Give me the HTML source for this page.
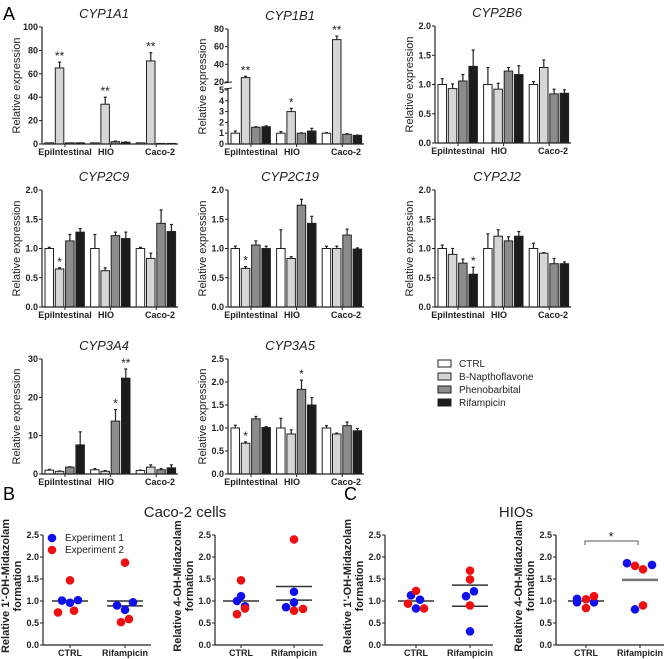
<!DOCTYPE html>
<html><head><meta charset="utf-8"><style>
html,body{margin:0;padding:0;background:#fff}
svg{display:block;font-family:"Liberation Sans",Arial,sans-serif}
.tk{font-size:9px;font-weight:bold;fill:#222}
.cat{font-size:9px;font-weight:bold;fill:#222}
.yl{font-size:11px;fill:#222}
.tt{font-size:13px;font-style:italic;fill:#222}
</style></head><body>
<svg id="fig" width="668" height="659" viewBox="0 0 668 659" xmlns="http://www.w3.org/2000/svg">
<text x="3" y="20" font-size="18">A</text>
<text x="3" y="500" font-size="18">B</text>
<text x="344" y="500" font-size="18">C</text>
<text x="185" y="517" font-size="15" text-anchor="middle" fill="#222">Caco-2 cells</text>
<text x="516" y="517" font-size="15" text-anchor="middle" fill="#222">HIOs</text>
</svg>
<script>
const NS="http://www.w3.org/2000/svg";
const svg=document.getElementById('fig');
const groups=["EpiIntestinal","HIO","Caco-2"];
const treatments=["CTRL","B-Napthoflavone","Phenobarbital","Rifampicin"];
const fills=["#ffffff","#d6d6d6","#8c8c8c","#1c1c1c"];

const cyp1a1Values=[[1,65,1,1],[1,34,2,1.5],[1,71,0.5,0.5]];
const cyp1a1Errors=[[0,5,0,0],[0,6,0.5,0.3],[0,7,0,0]];
const cyp1a1Ticks=[0,20,40,60,80,100];
const cyp1b1Values=[[1,25,1.55,1.6],[1,3,1,1.2],[1,68,0.9,0.8]];
const cyp1b1Errors=[[0.2,1.5,0.05,0.08],[0.15,0.3,0.03,0.25],[0.05,4,0.05,0.03]];
const cyp1b1Ticks=[0,1,2,3,4,5,20,40,60,80];
const cyp2b6Values=[[1,0.93,1.06,1.31],[1,0.92,1.23,1.17],[1,1.29,0.84,0.85]];
const cyp2b6Errors=[[0.1,0.08,0.11,0.28],[0.29,0.1,0.06,0.15],[0.05,0.13,0.08,0.06]];
const cyp2c9Values=[[1,0.65,1.13,1.28],[1,0.62,1.22,1.17],[1,0.83,1.43,1.29]];
const cyp2c9Errors=[[0.02,0.02,0.11,0.06],[0.24,0.05,0.06,0.11],[0.02,0.09,0.23,0.12]];
const cyp2c19Values=[[1,0.66,1.06,1.0],[1,0.83,1.74,1.43],[1,1.0,1.23,0.99]];
const cyp2c19Errors=[[0.04,0.03,0.07,0.04],[0.32,0.03,0.1,0.12],[0.04,0.04,0.1,0.02]];
const cyp2j2Values=[[1,0.9,0.75,0.56],[1,1.21,1.13,1.21],[1,0.92,0.74,0.74]];
const cyp2j2Errors=[[0.06,0.1,0.07,0.12],[0.25,0.11,0.07,0.08],[0.09,0.01,0.09,0.03]];
const cyp3a4Values=[[1,0.7,1.8,7.6],[1.1,0.7,13.8,25],[0.9,1.8,1.1,1.6]];
const cyp3a4Errors=[[0.2,0.1,0.1,3.4],[0.3,0.2,3,2.4],[0.1,0.6,0.3,0.8]];
const cyp3a4Ticks=[0,10,20,30];
const cyp3a5Values=[[1,0.67,1.2,1.01],[1,0.87,1.84,1.5],[1,0.87,1.05,0.94]];
const cyp3a5Errors=[[0.06,0.03,0.05,0.02],[0.21,0.09,0.2,0.16],[0.05,0.02,0.08,0.05]];
const ticks20=[0,0.5,1.0,1.5,2.0];
const ticks25=[0,0.5,1.0,1.5,2.0,2.5];

function el(tag,attrs,parent){const e=document.createElementNS(NS,tag);for(const k in attrs)e.setAttribute(k,attrs[k]);(parent||svg).appendChild(e);return e;}
function fmt(v,dec){return dec?v.toFixed(1):String(v);}

function barChart(name,title,ax,top,bottom,yfn,ticks,dec,values,errors,stars){
  const g=el('g',{});
  
  
  const W=136;
  const t=el('text',{x:ax+62,y:top-9,'text-anchor':'middle',class:'tt'},g);t.textContent=title;
  
  
  const yl=el('text',{x:0,y:0,'text-anchor':'middle',class:'yl',transform:`translate(${ax-22},${(top+bottom)/2}) rotate(-90)`},g);yl.textContent='Relative expression';
  
  
  values.forEach((grp,gi)=>{
    const gx=ax+3+gi*45.6;
    grp.forEach((v,bi)=>{
      const x=gx+bi*10.3, y=yfn(v), e=errors[gi][bi];
      if(e>0){const ye=yfn(v+e);
        const ln=el('line',{x1:x+4.3,x2:x+4.3,y1:y,y2:ye,stroke:'#222','stroke-width':1.2},g);
        
        
        el('line',{x1:x+2.8,x2:x+5.8,y1:ye,y2:ye,stroke:'#222','stroke-width':1.2},g);}
      const r=el('rect',{x:x,y:y,width:8.5,height:Math.max(0,bottom-y),fill:fills[bi],stroke:'#222','stroke-width':1},g);
      
      
    });
  });
  stars.forEach(s=>{const [gi,bi,txt]=s;const v=values[gi][bi]+errors[gi][bi];
    const st=el('text',{x:ax+3+gi*45.6+bi*10.3+4.3,y:yfn(v)-2,'text-anchor':'middle','font-size':12,fill:'#222'},g);st.textContent=txt;
    
    });
  const ya=el('line',{x1:ax,x2:ax,y1:top,y2:bottom,stroke:'#222','stroke-width':1.2},g);
  
  
  const xa=el('line',{x1:ax,x2:ax+W,y1:bottom,y2:bottom,stroke:'#222','stroke-width':1.2},g);
  
  
  ticks.forEach(tv=>{const y=yfn(tv);el('line',{x1:ax-3,x2:ax,y1:y,y2:y,stroke:'#222'},g);
    const tl=el('text',{x:ax-4,y:y+3,'text-anchor':'end',class:'tk'},g);tl.textContent=fmt(tv,dec);
    
    });
  const catOff=[23,64,118];
  groups.forEach((c,i)=>{const cx=ax+catOff[i];el('line',{x1:ax+3+i*45.6+20,x2:ax+3+i*45.6+20,y1:bottom,y2:bottom+3,stroke:'#222'},g);
    const ct=el('text',{x:cx,y:bottom+11,'text-anchor':'middle',class:'cat'},g);ct.textContent=c;
    
    });
  return g;
}
function lin(top,bottom,max){return v=>bottom-(bottom-top)*v/max;}

barChart('cyp1a1','CYP1A1',42,27,144,lin(27,144,100),cyp1a1Ticks,false,cyp1a1Values,cyp1a1Errors,[[0,1,'**'],[1,1,'**'],[2,1,'**']]);
const brk=v=>v<=5?144-v*10.8:82-(v-20)*(53/60);
const b1=barChart('cyp1b1','CYP1B1',228,29,144,brk,cyp1b1Ticks,false,cyp1b1Values,cyp1b1Errors,[[0,1,'**'],[1,1,'*'],[2,1,'**']]);
el('rect',{x:224,y:83,width:8,height:6,fill:'#fff'},b1);
el('line',{x1:224,x2:232,y1:83,y2:82,stroke:'#222'},b1);
el('line',{x1:224,x2:232,y1:89,y2:88,stroke:'#222'},b1);
barChart('cyp2b6','CYP2B6',435,26,143,lin(26,143,2),ticks20,true,cyp2b6Values,cyp2b6Errors,[]);
barChart('cyp2c9','CYP2C9',42,190,307,lin(190,307,2),ticks20,true,cyp2c9Values,cyp2c9Errors,[[0,1,'*']]);
barChart('cyp2c19','CYP2C19',228,190,307,lin(190,307,2),ticks20,true,cyp2c19Values,cyp2c19Errors,[[0,1,'*']]);
barChart('cyp2j2','CYP2J2',435,190,307,lin(190,307,2),ticks20,true,cyp2j2Values,cyp2j2Errors,[[0,3,'*']]);
barChart('cyp3a4','CYP3A4',42,359,474,lin(359,474,30),cyp3a4Ticks,false,cyp3a4Values,cyp3a4Errors,[[1,2,'*'],[1,3,'**']]);
barChart('cyp3a5','CYP3A5',228,359,474,lin(359,474,2.5),ticks25,true,cyp3a5Values,cyp3a5Errors,[[0,1,'*'],[1,2,'*']]);

treatments.forEach((t,i)=>{const y=360+i*13;
  const r=el('rect',{x:438,y:y,width:13,height:7,fill:fills[i],stroke:'#222'});
  
  
  const tx=el('text',{x:459,y:y+7,'font-size':10,fill:'#222'});tx.textContent=t;
  
  });

const scatterCats=["CTRL","Rifampicin"];
const caco1Exp1=[[1.01,0.96,1.02],[0.9,0.8,0.97]];
const caco1Exp2=[[1.47,0.74,0.78],[1.87,0.52,0.59]];
const caco1Lines=[[1.0],[1.0,0.89]];
const caco4Exp1=[[1.0,1.11,0.88],[0.86,0.97,1.21]];
const caco4Exp2=[[1.47,0.7,0.83],[2.4,0.78,0.82]];
const caco4Lines=[[1.0],[1.33,1.02]];
const hio1Exp1=[[1.13,1.03,0.83],[1.11,1.22,0.31]];
const hio1Exp2=[[1.23,0.94,0.83],[1.69,1.49,0.9]];
const hio1Lines=[[1.0],[1.36,0.88]];
const hio4Exp1=[[1.05,0.97,0.97],[1.86,1.82,0.81]];
const hio4Exp2=[[1.04,1.11,0.84],[1.8,1.72,0.9]];
const hio4Lines=[[1.0],[1.48]];
const scatterTicks=[0,0.5,1.0,1.5,2.0,2.5];
const jit1=[[-8,0,8],[-8,0,8]];

function scatter(name,ax,cx,exp1,exp2,lines,j1,j2,ylab){
  const top=535,bottom=645,y=v=>bottom-(bottom-top)*v/2.5;
  const g=el('g',{});
  
  
  const yl=el('text',{x:0,y:0,'text-anchor':'middle',class:'yl','font-weight':'bold','font-size':9.5,transform:`translate(${ax-34},${(top+bottom)/2-4}) rotate(-90)`},g);
  const s1=el('tspan',{x:0,dy:0},yl);s1.textContent=ylab;
  const s2=el('tspan',{x:0,dy:12},yl);s2.textContent='formation';
  
  
  lines.forEach((ls,ci)=>ls.forEach(v=>{const ln=el('line',{x1:cx[ci]-18,x2:cx[ci]+18,y1:y(v),y2:y(v),stroke:ci&&ls.length==1?'#777':'#333','stroke-width':ci&&ls.length==1?2.5:1.5},g);
    
    }));
  [[exp1,'#1010ee',j1],[exp2,'#ee1010',j2]].forEach(([d,col,jj])=>d.forEach((pts,ci)=>pts.forEach((v,k)=>{
    const c=el('circle',{cx:cx[ci]+jj[ci][k],cy:y(v),r:4.3,fill:col},g);
    
    })));
  const ya=el('line',{x1:ax,x2:ax,y1:top,y2:bottom,stroke:'#222','stroke-width':1.2},g);
  
  
  const xa=el('line',{x1:ax,x2:ax+108,y1:bottom,y2:bottom,stroke:'#222','stroke-width':1.2},g);
  
  
  scatterTicks.forEach(tv=>{el('line',{x1:ax-3,x2:ax,y1:y(tv),y2:y(tv),stroke:'#222'},g);
    const tl=el('text',{x:ax-4,y:y(tv)+3,'text-anchor':'end',class:'tk'},g);tl.textContent=tv.toFixed(1);
    
    });
  scatterCats.forEach((c,i)=>{el('line',{x1:cx[i],x2:cx[i],y1:bottom,y2:bottom+3,stroke:'#222'},g);
    const ct=el('text',{x:cx[i],y:bottom+11,'text-anchor':'middle',class:'cat'},g);ct.textContent=c;
    
    });
  return {g,y};
}
scatter('caco2-1oh',43,[70,125],caco1Exp1,caco1Exp2,caco1Lines,jit1,[[0,-12,4],[0,-4,4]],"Relative 1'-OH-Midazolam");
scatter('caco2-4oh',215,[241,294],caco4Exp1,caco4Exp2,caco4Lines,[[-4,0,4],[-8,0,0]],[[0,-4,4],[0,0,9]],"Relative 4-OH-Midazolam");
scatter('hio-1oh',385,[416,470],hio1Exp1,hio1Exp2,hio1Lines,[[-5,4,0],[-4,4,0]],[[0,-8,8],[0,0,0]],"Relative 1'-OH-Midazolam");
scatter('hio-4oh',556,[586,640],hio4Exp1,hio4Exp2,hio4Lines,[[-9,-9,8],[-13,12,-5]],[[0,8,0],[-5,3,3]],"Relative 4-OH-Midazolam");
const br=el('path',{d:'M585 545 V541 H638 V545',fill:'none',stroke:'#555','stroke-width':1});


const bs=el('text',{x:611,y:541,'text-anchor':'middle','font-size':13,fill:'#222'});bs.textContent='*';


[['#1010ee','Experiment 1'],['#ee1010','Experiment 2']].forEach(([c,t],i)=>{
  const d=el('circle',{cx:52,cy:538+i*12,r:4.3,fill:c});
  
  
  const tx=el('text',{x:65,y:541+i*12,'font-size':10,fill:'#222'});tx.textContent=t;
  
  });
</script>
</body></html>
